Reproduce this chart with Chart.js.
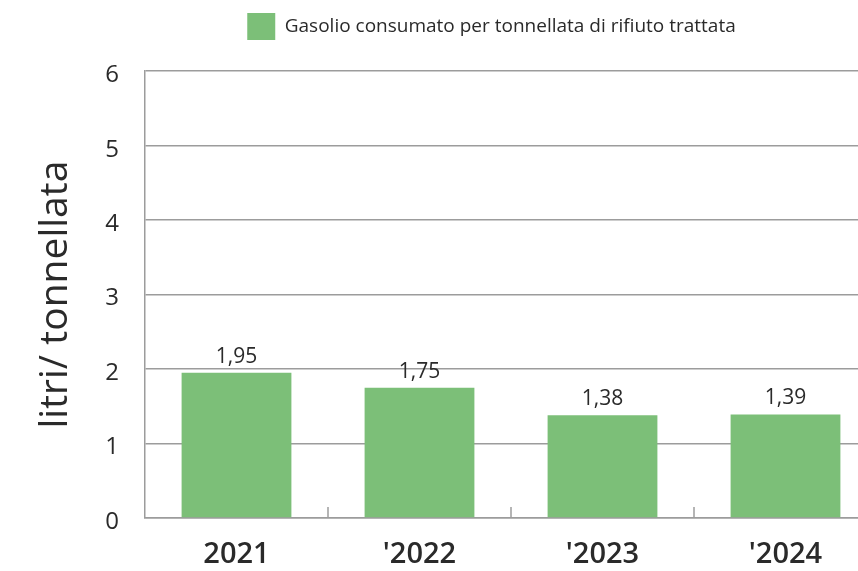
<!DOCTYPE html>
<html>
<head>
<meta charset="utf-8">
<script src="https://cdn.jsdelivr.net/npm/chart.js@4.4.1/dist/chart.umd.min.js"></script>
<style>
  html, body { margin: 0; padding: 0; background: #ffffff; overflow: hidden; }
  #wrap { width: 877px; height: 571px; }
</style>
</head>
<body>
<div id="wrap"><canvas id="c" width="877" height="571"></canvas></div>
<script>
const categories = ['2021', "'2022", "'2023", "'2024"];
const values = [1.95, 1.75, 1.38, 1.39];
const seriesName = 'Gasolio consumato per tonnellata di rifiuto trattata';
const yTitle = 'litri/ tonnellata';
const yMin = 0, yMax = 6, yStep = 1;

const FONT = "'Open Sans', 'Noto Sans', sans-serif";
const GRID = '#9c9c9c';
const BAR = '#7cbf78';
const TEXT = '#2a2a2a';

const valueLabels = {
  id: 'valueLabels',
  afterDatasetsDraw(chart) {
    const ctx = chart.ctx;
    const meta = chart.getDatasetMeta(0);
    ctx.save();
    ctx.font = '21px ' + FONT;
    ctx.fillStyle = TEXT;
    ctx.textAlign = 'center';
    ctx.textBaseline = 'alphabetic';
    meta.data.forEach((bar, i) => {
      ctx.fillText(String(values[i]).replace('.', ','), bar.x, bar.y - 10);
    });
    ctx.restore();
  }
};

const innerTicks = {
  id: 'innerTicks',
  afterDatasetsDraw(chart) {
    const x = chart.scales.x;
    const ctx = chart.ctx;
    const bottom = chart.chartArea.bottom;
    ctx.save();
    ctx.strokeStyle = GRID;
    ctx.lineWidth = 1.5;
    for (let i = 1; i < categories.length; i++) {
      const px = (x.getPixelForValue(i - 1) + x.getPixelForValue(i)) / 2;
      ctx.beginPath();
      ctx.moveTo(px, bottom);
      ctx.lineTo(px, bottom - 11);
      ctx.stroke();
    }
    ctx.restore();
  }
};

const legendShift = {
  id: 'legendShift',
  afterLayout(chart) {
    const dx = 53;
    chart.legend.left += dx;
    chart.legend.right += dx;
  }
};

new Chart(document.getElementById('c'), {
  type: 'bar',
  data: {
    labels: categories,
    datasets: [{
      label: seriesName,
      data: values,
      backgroundColor: BAR,
      borderWidth: 0,
      barPercentage: 0.6,
      categoryPercentage: 1.0
    }]
  },
  options: {
    responsive: false,
    animation: false,
    layout: { padding: { top: 3, left: 0, right: 0, bottom: 0 } },
    plugins: {
      tooltip: { enabled: false },
      legend: {
        display: true,
        position: 'top',
        labels: {
          boxWidth: 28,
          boxHeight: 27,
          padding: 10,
          color: TEXT,
          font: { family: FONT, size: 19 }
        }
      },
      title: {
        display: true,
        text: ' ',
        weight: 500,
        font: { size: 1 },
        padding: { top: 20, bottom: 0 }
      }
    },
    scales: {
      x: {
        grid: { display: true, drawOnChartArea: false, drawTicks: false },
        border: { display: true, color: GRID, width: 1.5 },
        ticks: {
          color: TEXT,
          padding: 21,
          font: { family: FONT, size: 29, weight: 600, lineHeight: 1.1 }
        },
        afterFit(s) { s.height = 53; }
      },
      y: {
        min: yMin,
        max: yMax,
        grid: { color: GRID, lineWidth: 1.5, drawTicks: false },
        border: { display: true, color: GRID, width: 1.5 },
        ticks: {
          stepSize: yStep,
          color: TEXT,
          padding: 26,
          labelOffset: 4,
          font: { family: FONT, size: 24, weight: 500 }
        },
        title: {
          display: true,
          text: yTitle,
          color: TEXT,
          padding: { top: 32, bottom: 0 },
          font: { family: FONT, size: 39 }
        },
        afterFit(s) { s.width = 145; }
      }
    }
  },
  plugins: [valueLabels, innerTicks, legendShift]
});
</script>
</body>
</html>
